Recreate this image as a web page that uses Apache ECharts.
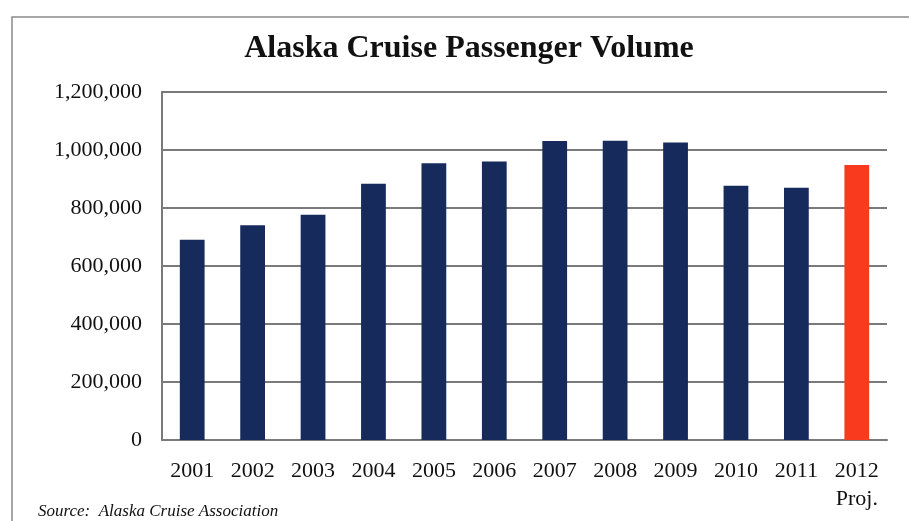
<!DOCTYPE html>
<html>
<head>
<meta charset="utf-8">
<script src="https://cdn.jsdelivr.net/npm/echarts@6/dist/echarts.min.js"></script>
<style>
  html, body { margin: 0; padding: 0; background: #fff; }
  #chart { width: 909px; height: 521px; }
</style>
</head>
<body>
<div id="chart"></div>
<script>
// Alaska cruise passengers per season; 2012 is a projection
const years = ['2001', '2002', '2003', '2004', '2005', '2006', '2007', '2008', '2009', '2010', '2011', '2012'];
const passengers = [690600, 740600, 777000, 884000, 954000, 960000, 1031000, 1032000, 1026000, 877000, 870000, 948000];
const projectedYear = '2012';
const yTicks = [0, 200000, 400000, 600000, 800000, 1000000, 1200000];

const NAVY = '#162a5b';
const RED = '#fa3a1e';
const SERIF = '"Liberation Serif", "DejaVu Serif", serif';

const chart = echarts.init(document.getElementById('chart'));

chart.setOption({
  animation: false,
  backgroundColor: '#ffffff',
  title: {
    text: 'Alaska Cruise Passenger Volume',
    left: 464,
    textAlign: 'center',
    top: 28,
    textStyle: { fontFamily: SERIF, fontWeight: 'bold', fontSize: 32, color: '#111' }
  },
  grid: { left: 162, right: 22, top: 92, bottom: 81 },
  xAxis: {
    type: 'category',
    data: years,
    axisLine: { show: true, lineStyle: { color: '#7a7a7a', width: 2 } },
    axisTick: { show: false },
    axisLabel: {
      margin: 17,
      fontFamily: SERIF,
      fontSize: 22,
      color: '#111',
      lineHeight: 28,
      formatter: y => y === projectedYear ? y + '\nProj.' : y
    }
  },
  yAxis: {
    type: 'value',
    min: yTicks[0],
    max: yTicks[yTicks.length - 1],
    interval: yTicks[1] - yTicks[0],
    axisLine: { show: true, lineStyle: { color: '#7a7a7a', width: 2 } },
    axisTick: { show: false },
    splitLine: { show: true, lineStyle: { color: '#7a7a7a', width: 2 } },
    axisLabel: {
      margin: 20,
      fontFamily: SERIF,
      fontSize: 22,
      color: '#111',
      formatter: v => v.toLocaleString('en-US')
    }
  },
  series: [{
    type: 'bar',
    data: passengers.map((v, i) => ({
      value: v,
      itemStyle: { color: years[i] === projectedYear ? RED : NAVY }
    })),
    barWidth: '41%'
  }],
  graphic: [
    {
      type: 'rect',
      silent: true,
      shape: { x: 12, y: 17, width: 910, height: 520 },
      style: { fill: 'none', stroke: '#8a8a8a', lineWidth: 1.5 }
    },
    {
      type: 'text',
      left: 38,
      top: 503,
      style: {
        text: 'Source:  Alaska Cruise Association',
        fontFamily: SERIF,
        fontStyle: 'italic',
        fontSize: 17,
        fill: '#111'
      }
    }
  ]
});
</script>
</body>
</html>
